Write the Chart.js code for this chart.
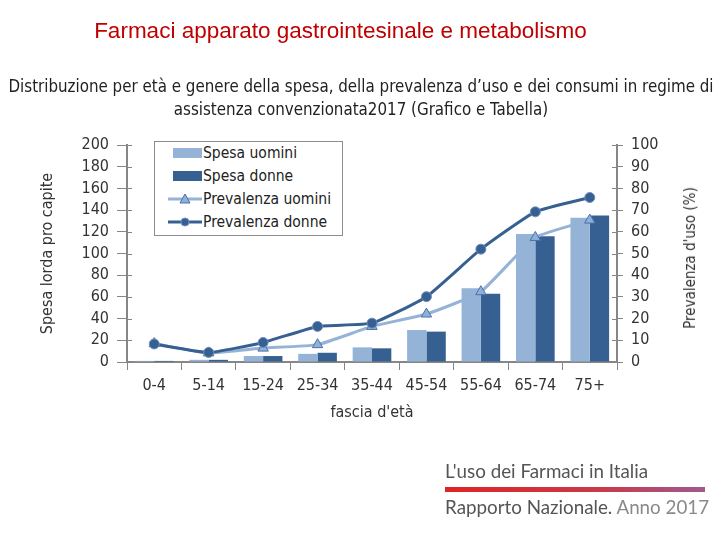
<!DOCTYPE html>
<html>
<head>
<meta charset="utf-8">
<script src="https://cdn.jsdelivr.net/npm/chart.js@4.4.1/dist/chart.umd.min.js"></script>
<style>
  html, body { margin: 0; padding: 0; background: #fff; }
  #wrap { position: relative; width: 720px; height: 540px; overflow: hidden; }
  #chart { position: absolute; left: 0; top: 0; }
  .t { position: absolute; white-space: nowrap; }
  #title { left: 0; width: 681px; top: 20px; text-align: center; font: 22.5px/22px "Liberation Sans", Arial, sans-serif; color: #c00000; }
  #sub { left: 0; width: 722px; top: 75px; text-align: center; font: 16.8px/23px "Liberation Sans Narrow", "DejaVu Sans Condensed", sans-serif; color: #222; }
  #ytitle2 { left: 690px; top: 258px; transform: translate(-50%, -50%) rotate(-90deg); font: 15px "Liberation Sans Narrow", "DejaVu Sans Condensed", sans-serif; color: #333; }
  #legend { position: absolute; left: 154px; top: 141px; width: 187px; height: 93px; border: 1px solid #8c8c8c; background: #fff;
            font: 15.5px "Liberation Sans Narrow", "DejaVu Sans Condensed", sans-serif; color: #222; }
  .li { position: absolute; left: 13px; height: 20px; display: flex; align-items: center; }
  .li svg { margin-right: 1px; }
  #f1 { left: 445px; top: 459px; font: 18.8px "Lato", "Open Sans", sans-serif; color: #555; }
  #bar { position: absolute; left: 445px; top: 487px; width: 260px; height: 5px; background: linear-gradient(to right, #e02424, #c83a4a 60%, #9e5a8e); }
  #f2 { left: 445px; top: 495px; font: 18.8px "Lato", "Open Sans", sans-serif; color: #555; }
  #f2 span { color: #8a8a8a; }
</style>
</head>
<body>
<div id="wrap">
  <canvas id="chart" width="720" height="540"></canvas>
  <div class="t" id="title">Farmaci apparato gastrointesinale e metabolismo</div>
  <div class="t" id="sub">Distribuzione per età e genere della spesa, della prevalenza d’uso e dei consumi in regime di<br>assistenza convenzionata2017 (Grafico e Tabella)</div>
  <div class="t" id="ytitle2">Prevalenza d'uso (%)</div>
  <div id="legend"></div>
  <div class="t" id="f1">L'uso dei Farmaci in Italia</div>
  <div id="bar"></div>
  <div class="t" id="f2">Rapporto Nazionale. <span>Anno 2017</span></div>
</div>
<script>
const fasce = ['0-4', '5-14', '15-24', '25-34', '35-44', '45-54', '55-64', '65-74', '75+'];
const spesaUomini = [1, 2, 5.5, 7.5, 13.5, 29.5, 68, 118, 133];
const spesaDonne = [1, 2, 5.5, 8.5, 12.6, 28, 63, 116, 135];
const prevUomini = [8.5, 4.2, 6.4, 8.0, 16.4, 22.1, 32.4, 57.4, 65.4];
const prevDonne = [8.3, 4.4, 9.0, 16.4, 17.9, 30.1, 52, 69.2, 75.8];

const lightBlue = '#95b3d7';
const darkBlue = '#376092';
const axisGray = '#868686';
const tickFont = { family: '"Liberation Sans Narrow", "DejaVu Sans Condensed", sans-serif', size: 16 };

// short tick segments on the inner side of the axes (ticks cross the axis line)
const innerTicks = {
  id: 'innerTicks',
  afterDraw(chart) {
    const c = chart.ctx;
    c.save();
    c.strokeStyle = axisGray;
    c.lineWidth = 1;
    ['y', 'y1'].forEach(id => {
      const s = chart.scales[id];
      const x0 = id === 'y' ? s.right : s.left;
      const dir = id === 'y' ? 1 : -1;
      s.ticks.forEach(t => {
        const py = Math.round(s.getPixelForValue(t.value)) + 0.5;
        c.beginPath();
        c.moveTo(x0, py);
        c.lineTo(x0 + dir * 5, py);
        c.stroke();
      });
    });
    c.restore();
  }
};

const ctx = document.getElementById('chart').getContext('2d');
const chart = new Chart(ctx, {
  type: 'bar',
  data: {
    labels: fasce,
    datasets: [
      { type: 'line', label: 'Prevalenza donne', data: prevDonne, yAxisID: 'y1', order: 0,
        borderColor: darkBlue, backgroundColor: darkBlue, borderWidth: 3, pointStyle: 'circle',
        pointRadius: 5, pointBorderColor: '#6f8fbd', pointBorderWidth: 1, tension: 0.15 },
      { type: 'line', label: 'Prevalenza uomini', data: prevUomini, yAxisID: 'y1', order: 1,
        borderColor: lightBlue, backgroundColor: '#8eb0da', borderWidth: 3, pointStyle: 'triangle',
        pointRadius: 6, pointBorderColor: '#4a72a6', pointBorderWidth: 1, tension: 0.15 },
      { label: 'Spesa uomini', data: spesaUomini, yAxisID: 'y', order: 2, backgroundColor: lightBlue,
        categoryPercentage: 0.71, barPercentage: 1 },
      { label: 'Spesa donne', data: spesaDonne, yAxisID: 'y', order: 3, backgroundColor: darkBlue,
        categoryPercentage: 0.71, barPercentage: 1 }
    ]
  },
  options: {
    responsive: false,
    animation: false,
    layout: { padding: { left: 36, right: 20, top: 145, bottom: 118 } },
    plugins: { legend: { display: false }, tooltip: { enabled: false } },
    scales: {
      x: {
        grid: { display: true, drawOnChartArea: false, offset: true, tickLength: 8, color: axisGray },
        border: { color: axisGray, width: 2 },
        ticks: { font: tickFont, color: '#333', padding: 6, autoSkip: false, maxRotation: 0 },
        title: { display: true, text: "fascia d'età", font: tickFont, color: '#333', padding: { top: 4, bottom: 0 } },
        afterFit: s => { s.height = 60; }
      },
      y: {
        position: 'left', min: 0, max: 200,
        ticks: { stepSize: 20, font: tickFont, color: '#333', padding: 8, autoSkip: false },
        grid: { display: true, drawOnChartArea: false, tickLength: 10, color: axisGray },
        border: { color: axisGray, width: 2 },
        title: { display: true, text: 'Spesa lorda pro capite', font: tickFont, color: '#333', padding: 2 },
        afterFit: s => { s.width = 91; }
      },
      y1: {
        position: 'right', min: 0, max: 100,
        ticks: { stepSize: 10, font: tickFont, color: '#333', padding: 8, autoSkip: false },
        grid: { display: true, drawOnChartArea: false, tickLength: 6, color: axisGray },
        border: { color: axisGray, width: 2 },
        title: { display: false },
        afterFit: s => { s.width = 83; }
      }
    }
  },
  plugins: [innerTicks]
});

// HTML legend built from the datasets
const legendOrder = ['Spesa uomini', 'Spesa donne', 'Prevalenza uomini', 'Prevalenza donne'];
const legendEl = document.getElementById('legend');
legendOrder.forEach((name, i) => {
  const ds = chart.data.datasets.find(d => d.label === name);
  let icon;
  if (ds.type === 'line') {
    const mk = ds.pointStyle === 'triangle'
      ? `<polygon points="17,3 22,12 12,12" fill="${ds.backgroundColor}" stroke="${ds.pointBorderColor}" stroke-width="1"/>`
      : `<circle cx="17" cy="8" r="4" fill="${ds.backgroundColor}" stroke="${ds.pointBorderColor}" stroke-width="1"/>`;
    icon = `<svg width="34" height="16"><line x1="0" y1="8" x2="34" y2="8" stroke="${ds.borderColor}" stroke-width="3"/>${mk}</svg>`;
  } else {
    icon = `<svg width="34" height="16"><rect x="5" y="3" width="29" height="10" fill="${ds.backgroundColor}"/></svg>`;
  }
  const row = document.createElement('div');
  row.className = 'li';
  row.style.top = (1 + i * 23) + 'px';
  row.innerHTML = icon + '<span>' + name + '</span>';
  legendEl.appendChild(row);
});
</script>
</body>
</html>
